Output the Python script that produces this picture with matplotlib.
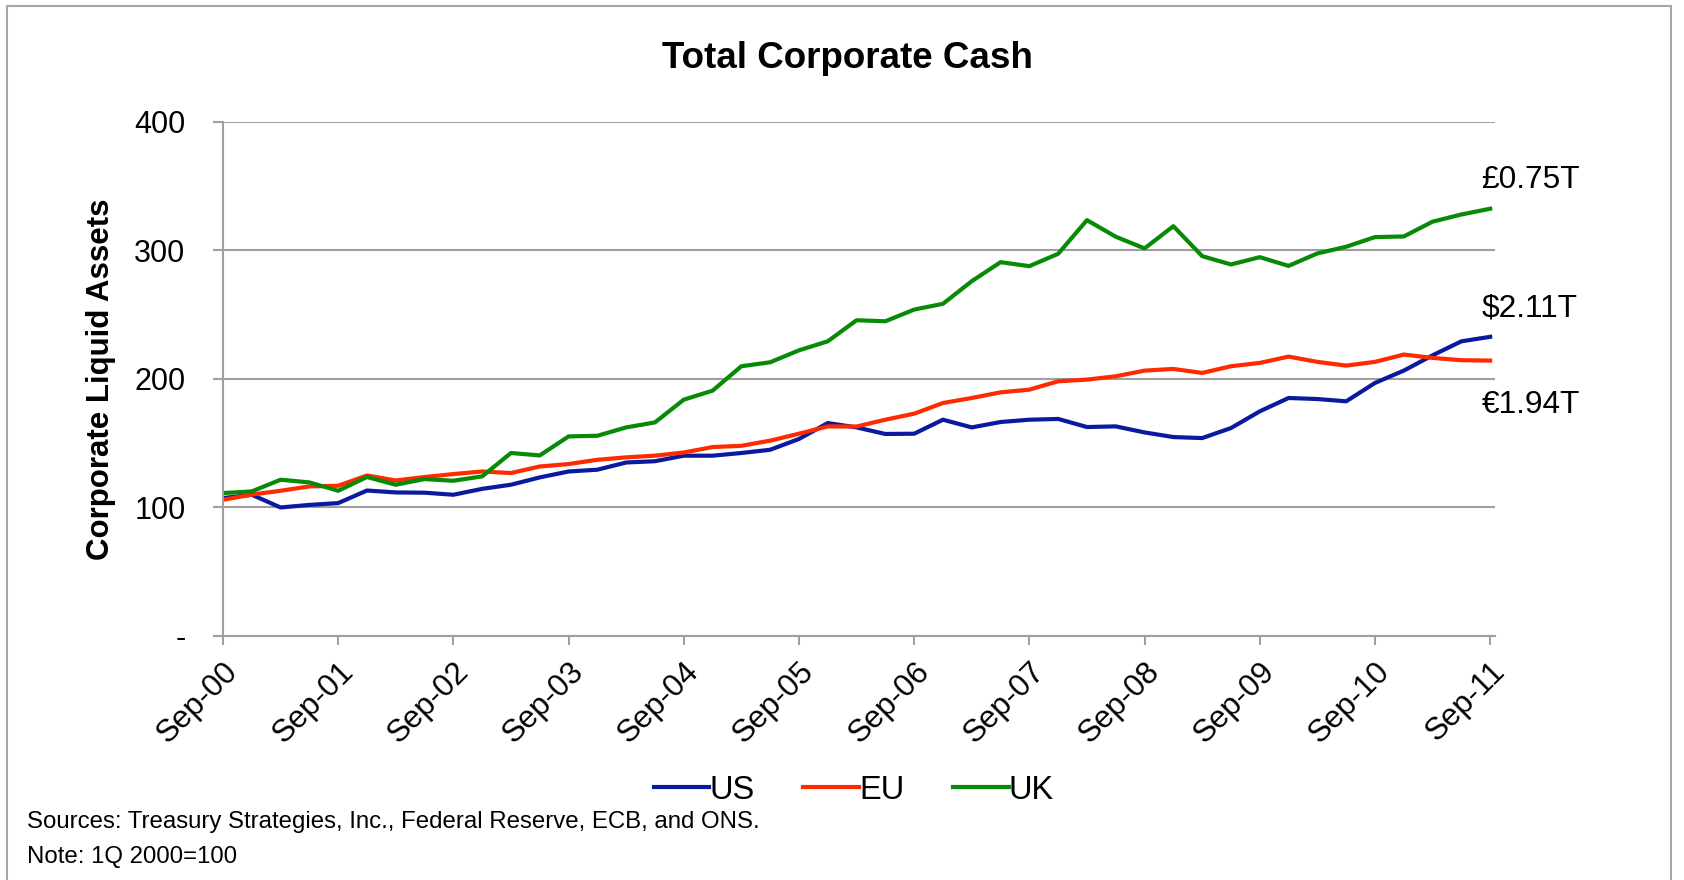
import matplotlib
matplotlib.use("Agg")
import matplotlib.pyplot as plt
from matplotlib.patches import Rectangle

plt.rcParams['font.family'] = ['Liberation Sans', 'DejaVu Sans']

# quarterly index values, 1Q 2000 = 100 (Sep-00 .. Sep-11)
us = [107.3, 109.9, 100.0, 102.0, 103.4, 113.2, 111.7, 111.5, 109.9, 114.5,
      117.7, 123.4, 128.0, 129.4, 135.0, 136.0, 140.3, 140.3, 142.4, 144.9,
      153.3, 165.7, 162.3, 157.2, 157.4, 168.3, 162.3, 166.5, 168.3, 168.9,
      162.6, 163.1, 158.4, 154.8, 154.0, 161.8, 174.8, 185.2, 184.4, 182.6,
      196.9, 206.5, 218.4, 229.3, 232.8]
eu = [106.0, 110.0, 113.0, 116.4, 116.9, 124.9, 121.0, 123.7, 126.0, 128.0,
      126.8, 131.9, 133.8, 137.1, 139.0, 140.3, 142.8, 147.0, 148.0, 152.0,
      157.4, 163.1, 163.0, 168.3, 173.0, 181.3, 185.2, 189.6, 191.7, 198.2,
      199.5, 202.1, 206.5, 207.8, 204.7, 209.9, 212.5, 217.4, 213.3, 210.4,
      213.3, 219.0, 216.4, 214.6, 214.3]
uk = [111.2, 112.5, 121.6, 119.5, 113.0, 123.7, 117.7, 122.1, 120.8, 124.2,
      142.4, 140.5, 155.3, 155.8, 162.3, 166.2, 183.9, 190.9, 209.9, 213.0,
      222.3, 229.3, 245.7, 244.9, 254.0, 258.5, 276.1, 290.9, 287.8, 297.4,
      323.6, 310.7, 301.6, 318.9, 295.6, 289.1, 294.8, 288.0, 297.7, 302.9,
      310.4, 310.9, 322.4, 328.0, 332.5]

year_labels = ['Sep-00', 'Sep-01', 'Sep-02', 'Sep-03', 'Sep-04', 'Sep-05',
               'Sep-06', 'Sep-07', 'Sep-08', 'Sep-09', 'Sep-10', 'Sep-11']
y_ticks = [0, 100, 200, 300, 400]
y_labels = ['-', '100', '200', '300', '400']

end_labels = ['£0.75T', '$2.11T', '€1.94T']
end_label_y = [355, 255, 180]

series = [('US', us, '#0A1A9E'), ('EU', eu, '#FF2A00'), ('UK', uk, '#078B07')]

fig = plt.figure(figsize=(16.84, 8.80), dpi=100)
ax = fig.add_axes([0.1324, 0.2773, 0.7554, 0.5841])

# outer frame
fig.patches.append(Rectangle((0.004, -0.05), 0.988, 1.043, transform=fig.transFigure,
                             fill=False, edgecolor='#A6A6A6', linewidth=1.5))

x = list(range(len(us)))
for name, vals, col in series:
    ax.plot(x, vals, color=col, lw=3.0, label=name)

ax.set_xlim(0, 44.17)
ax.set_ylim(0, 400)
ax.set_yticks(y_ticks)
ax.set_yticklabels(y_labels)
ax.set_xticks(range(0, 45, 4))
ax.set_xticklabels(year_labels, rotation=45, ha='right', rotation_mode='anchor')

ax.grid(axis='y', color='#A0A0A0', lw=1.5)
ax.set_axisbelow(True)
for s in ['top', 'right']:
    ax.spines[s].set_visible(False)
for s in ['left', 'bottom']:
    ax.spines[s].set_color('#A0A0A0')
    ax.spines[s].set_linewidth(1.5)
ax.tick_params(axis='y', length=7, width=1.5, color='#A0A0A0', pad=20, labelsize=22)
ax.tick_params(axis='x', length=6.5, width=1.5, color='#A0A0A0', pad=8, labelsize=22.5)

ax.set_ylabel('Corporate Liquid Assets', fontsize=22.5, fontweight='bold', labelpad=13)

for txt, yv in zip(end_labels, end_label_y):
    ax.text(43.7, yv, txt, fontsize=22.8, ha='left', va='center', clip_on=False,
            bbox=dict(facecolor='white', edgecolor='none', pad=6))

fig.text(0.503, 0.934, 'Total Corporate Cash', fontsize=26.5, fontweight='bold',
         ha='center', va='center')

fig.legend(loc='center', bbox_to_anchor=(0.507, 0.102), ncol=3, frameon=False,
           fontsize=23.5, handlelength=1.7, handletextpad=0.0, columnspacing=1.5)

fig.text(0.016, 0.066, 'Sources: Treasury Strategies, Inc., Federal Reserve, ECB, and ONS.',
         fontsize=17.3, ha='left', va='center')
fig.text(0.016, 0.026, 'Note: 1Q 2000=100', fontsize=17.3, ha='left', va='center')

fig.savefig('out.png', dpi=100, facecolor='white')
